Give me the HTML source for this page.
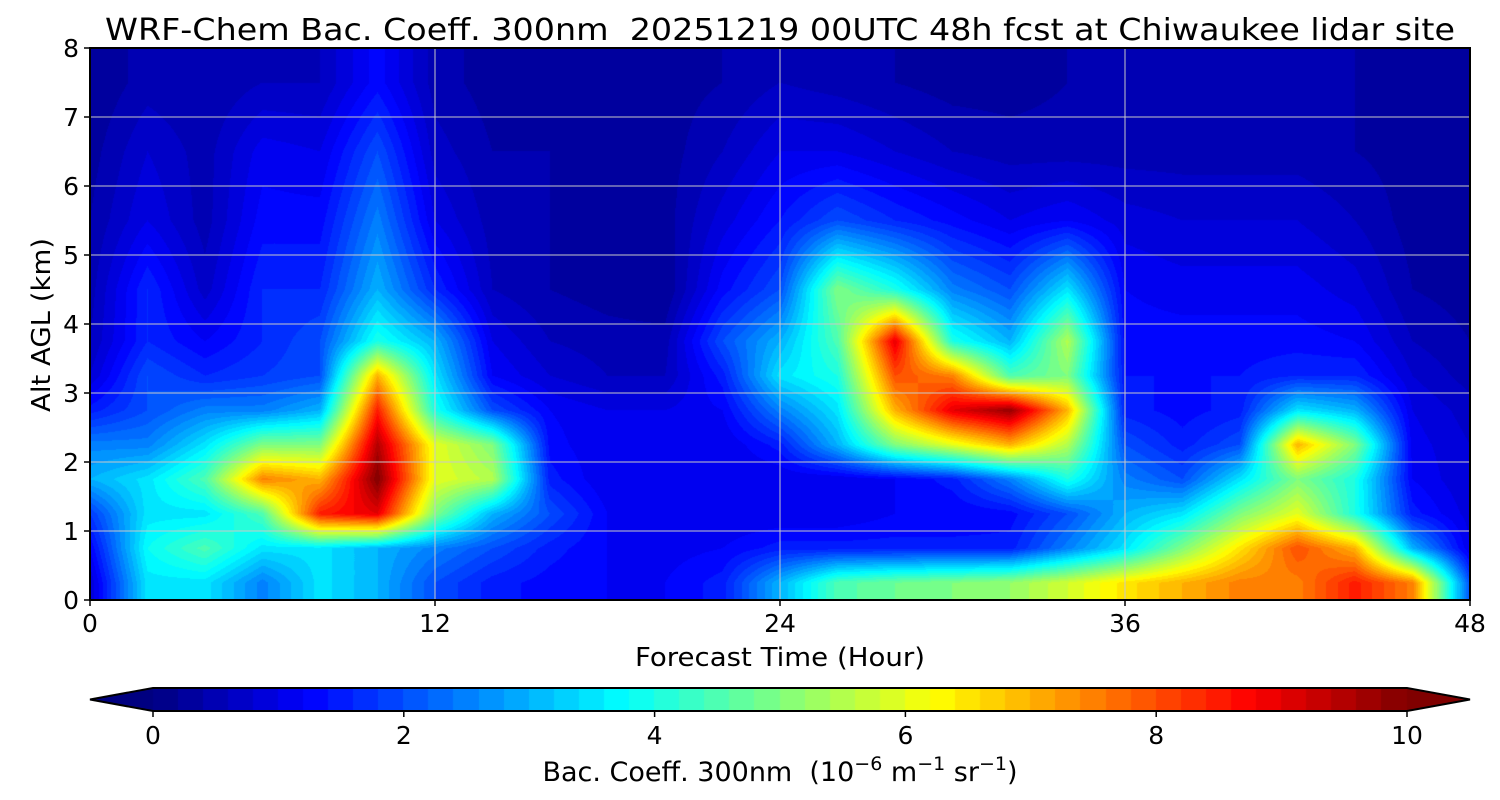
<!DOCTYPE html>
<html><head><meta charset="utf-8">
<style>
html,body{margin:0;padding:0;background:#fff;}
#wrap{position:relative;width:1500px;height:800px;font-family:"DejaVu Sans","Liberation Sans",sans-serif;}
canvas{position:absolute;left:0;top:0;}
svg{position:absolute;left:0;top:0;}
text{font-family:"DejaVu Sans","Liberation Sans",sans-serif;fill:#000;}
</style></head>
<body>
<div id="wrap">
<canvas id="heat" width="1500" height="800"></canvas>
<svg id="ax" width="1500" height="800"></svg>
</div>
<script>
// ---- data ----
const hours = [0,2,4,6,8,10,12,14,16,18,20,22,24,26,28,30,32,34,36,38,40,42,44,46,48];
const alts = [0.25,0.75,1.25,1.75,2.25,2.75,3.25,3.75,4.5,5.5,6.5,7.5];
const row0 = [0.8,3.5,3.5,2.5,3.5,3,2,1.5,1.3,1.2,1.2,1.5,3,4.5,4.8,5,5.2,5.8,6.5,7,7.5,7.5,8.5,7.5,2];
const row1 = [1.2,3.8,4.5,3.5,3.5,3,2.5,2,1.5,1.2,1.1,1.2,1.5,1.5,1.5,1.5,1.5,2.5,3.5,5,6.5,8,7,3,1.0];
const row2 = [1.8,3.5,3.5,4.5,8.5,9,5,3,2,1.2,1,1,1,1,1.2,1.2,1.3,2,3,3.5,5,6,4,1.5,0.9];
const row3 = [3,3.5,4.5,7.5,7,10,6,5.5,1.5,1,1,1,1,1,1.2,1.5,2.5,4,2.5,2,3.5,5,4,1.2,0.8];
const row4 = [2.5,2.5,3.5,5,5,9.5,6,5,1.3,1,1,1,1.5,3,5,6,7,5.5,2,1.5,2,7,5,1.1,0.8];
const row5 = [1.5,2,2.5,2.5,3,8.5,4,2,1.2,1,1,1.2,2.5,3.5,7,9,9.8,7,1.5,1.3,1.5,3.5,3,1.0,0.7];
const row6 = [0.8,2,1.6,1.8,2,7,3.5,1.2,0.8,0.6,0.6,1.5,3.5,4,8,7.5,4.5,5,1.4,1.4,1.4,1.6,1.6,0.8,0.5];
const row7 = [0.6,1.6,1.2,1.6,2,4,3,1.0,0.6,0.5,0.5,2,3,4.5,9,4,3,5.5,1.3,1.3,1.3,1.3,1.2,0.6,0.4];
const row8 = [0.5,1.6,0.7,1.6,1.6,3,1.6,0.6,0.4,0.3,0.2,1.3,2,5,4,2.5,2,3.5,1.2,1.1,1.1,1.1,0.9,0.4,0.3];
const row9 = [0.4,1.0,0.5,1.3,1.3,2.5,1.0,0.5,0.4,0.3,0.3,0.9,1.4,2,1.6,1.3,1.0,1.2,0.9,0.8,0.8,0.8,0.6,0.3,0.3];
const row10 = [0.3,0.8,0.5,1.1,1.0,2.0,0.7,0.4,0.4,0.3,0.3,0.6,1.0,1.0,0.8,0.6,0.5,0.5,0.5,0.5,0.5,0.5,0.4,0.3,0.3];
const row11 = [0.2,0.5,0.4,0.6,0.6,1.3,0.5,0.3,0.3,0.3,0.3,0.4,0.6,0.5,0.4,0.3,0.3,0.4,0.4,0.4,0.4,0.4,0.4,0.3,0.3];
const grid = [row0,row1,row2,row3,row4,row5,row6,row7,row8,row9,row10,row11];
const xTicks = [0,12,24,36,48];
const yTicks = [0,1,2,3,4,5,6,7,8];
const cbTicks = [0,2,4,6,8,10];

// ---- axes ----
const X0=90,X1=1470,Y0=600,Y1=48;
const xs = h => X0 + (h-0)/(48-0)*(X1-X0);
const ys = a => Y0 - a/8*(Y0-Y1);
const CB0=153,CB1=1407,CBT=688,CBB=711;
const cbx = v => CB0 + v/10*(CB1-CB0);

function jet(v){
  let t=Math.max(0,Math.min(1,v/10));
  const c=x=>Math.round(255*Math.max(0,Math.min(1,x)));
  return [c(1.5-Math.abs(4*t-3)),c(1.5-Math.abs(4*t-2)),c(1.5-Math.abs(4*t-1))];
}
function interp1(arr,x){
  if(x<=arr[0]) return [0,0,0];
  if(x>=arr[arr.length-1]) return [arr.length-1,arr.length-1,0];
  for(let i=0;i<arr.length-1;i++) if(x<=arr[i+1]) return [i,i+1,(x-arr[i])/(arr[i+1]-arr[i])];
}
function valueAt(h,a){
  const [i0,i1,fx]=interp1(hours,h);
  const [j0,j1,fy]=interp1(alts,a);
  const v00=grid[j0][i0],v01=grid[j0][i1],v10=grid[j1][i0],v11=grid[j1][i1];
  return (v00*(1-fx)+v01*fx)*(1-fy)+(v10*(1-fx)+v11*fx)*fy;
}
const ctx=document.getElementById('heat').getContext('2d');
const W=X1-X0,H=Y0-Y1;
const img=ctx.createImageData(W,H);
for(let py=0;py<H;py++){
  const a=(Y0-(Y1+py+0.5))/(Y0-Y1)*8;
  for(let px=0;px<W;px++){
    const h=(px+0.5)/W*48;
    let v=valueAt(h,a);
    v=Math.floor(v/0.2)*0.2+0.1;
    const col=jet(v);
    const k=(py*W+px)*4;
    img.data[k]=col[0];img.data[k+1]=col[1];img.data[k+2]=col[2];img.data[k+3]=255;
  }
}
ctx.putImageData(img,X0,Y1);
// colorbar
const nSeg=50;
for(let i=0;i<nSeg;i++){
  const v=(i+0.5)*10/nSeg;const c=jet(v);
  ctx.fillStyle=`rgb(${c[0]},${c[1]},${c[2]})`;
  ctx.fillRect(Math.floor(cbx(i*10/nSeg)),CBT,Math.ceil(cbx((i+1)*10/nSeg)-cbx(i*10/nSeg))+1,CBB-CBT);
}
ctx.fillStyle='rgb(0,0,128)';
ctx.beginPath();ctx.moveTo(CB0,CBT);ctx.lineTo(90,(CBT+CBB)/2);ctx.lineTo(CB0,CBB);ctx.fill();
ctx.fillStyle='rgb(128,0,0)';
ctx.beginPath();ctx.moveTo(CB1,CBT);ctx.lineTo(1470,(CBT+CBB)/2);ctx.lineTo(CB1,CBB);ctx.fill();

const svg=document.getElementById('ax');
const NS='http://www.w3.org/2000/svg';
function mk(tag,attrs,txt){const e=document.createElementNS(NS,tag);for(const k in attrs)e.setAttribute(k,attrs[k]);if(txt!==undefined)e.textContent=txt;svg.appendChild(e);return e;}
xTicks.slice(1,-1).forEach(t=>{
  const e=mk('line',{x1:xs(t),x2:xs(t),y1:Y1,y2:Y0,stroke:'#c8c8c8','stroke-width':1});
  
  
});
yTicks.slice(1,-1).forEach(t=>{
  const e=mk('line',{x1:X0,x2:X1,y1:ys(t),y2:ys(t),stroke:'#c8c8c8','stroke-width':1});
  
  
});
const frame=mk('rect',{x:X0,y:Y1,width:X1-X0,height:Y0-Y1,fill:'none',stroke:'#000','stroke-width':2});


xTicks.forEach(t=>{
  const l=mk('line',{x1:xs(t),x2:xs(t),y1:Y0,y2:Y0+6,stroke:'#000','stroke-width':1.5});
  
  
  const e=mk('text',{x:xs(t),y:Y0+32,'text-anchor':'middle','font-size':25},String(t));
  
  
});
yTicks.forEach(t=>{
  const l=mk('line',{x1:X0-6,x2:X0,y1:ys(t),y2:ys(t),stroke:'#000','stroke-width':1.5});
  
  
  const e=mk('text',{x:X0-11,y:ys(t)+9,'text-anchor':'end','font-size':25},String(t));
  
  
});
const title=mk('text',{x:780,y:40,'text-anchor':'middle','font-size':30,textLength:1350,lengthAdjust:'spacingAndGlyphs'},'WRF-Chem Bac. Coeff. 300nm\u00a0\u00a020251219 00UTC 48h fcst at Chiwaukee lidar site');


const xl=mk('text',{x:780,y:666,'text-anchor':'middle','font-size':26,textLength:290,lengthAdjust:'spacingAndGlyphs'},'Forecast Time (Hour)');


const yl=mk('text',{x:0,y:0,'text-anchor':'middle','font-size':26,textLength:174,lengthAdjust:'spacingAndGlyphs',transform:'translate(50,325) rotate(-90)'},'Alt AGL (km)');


const cbo=mk('polygon',{points:`${CB0},${CBT} ${CB1},${CBT} 1470,${(CBT+CBB)/2} ${CB1},${CBB} ${CB0},${CBB} 90,${(CBT+CBB)/2}`,fill:'none',stroke:'#000','stroke-width':2});


cbTicks.forEach(t=>{
  const l=mk('line',{x1:cbx(t),x2:cbx(t),y1:CBB,y2:CBB+6,stroke:'#000','stroke-width':1.5});
  
  
  const e=mk('text',{x:cbx(t),y:CBB+33,'text-anchor':'middle','font-size':25},String(t));
  
  
});
const cbl=mk('text',{x:780,y:781,'text-anchor':'middle','font-size':27});


cbl.innerHTML='Bac. Coeff. 300nm\u00a0\u00a0(10<tspan dy="-11" font-size="19">−6</tspan><tspan dy="11"> m</tspan><tspan dy="-11" font-size="19">−1</tspan><tspan dy="11"> sr</tspan><tspan dy="-11" font-size="19">−1</tspan><tspan dy="11">)</tspan>';
</script>
</body></html>
